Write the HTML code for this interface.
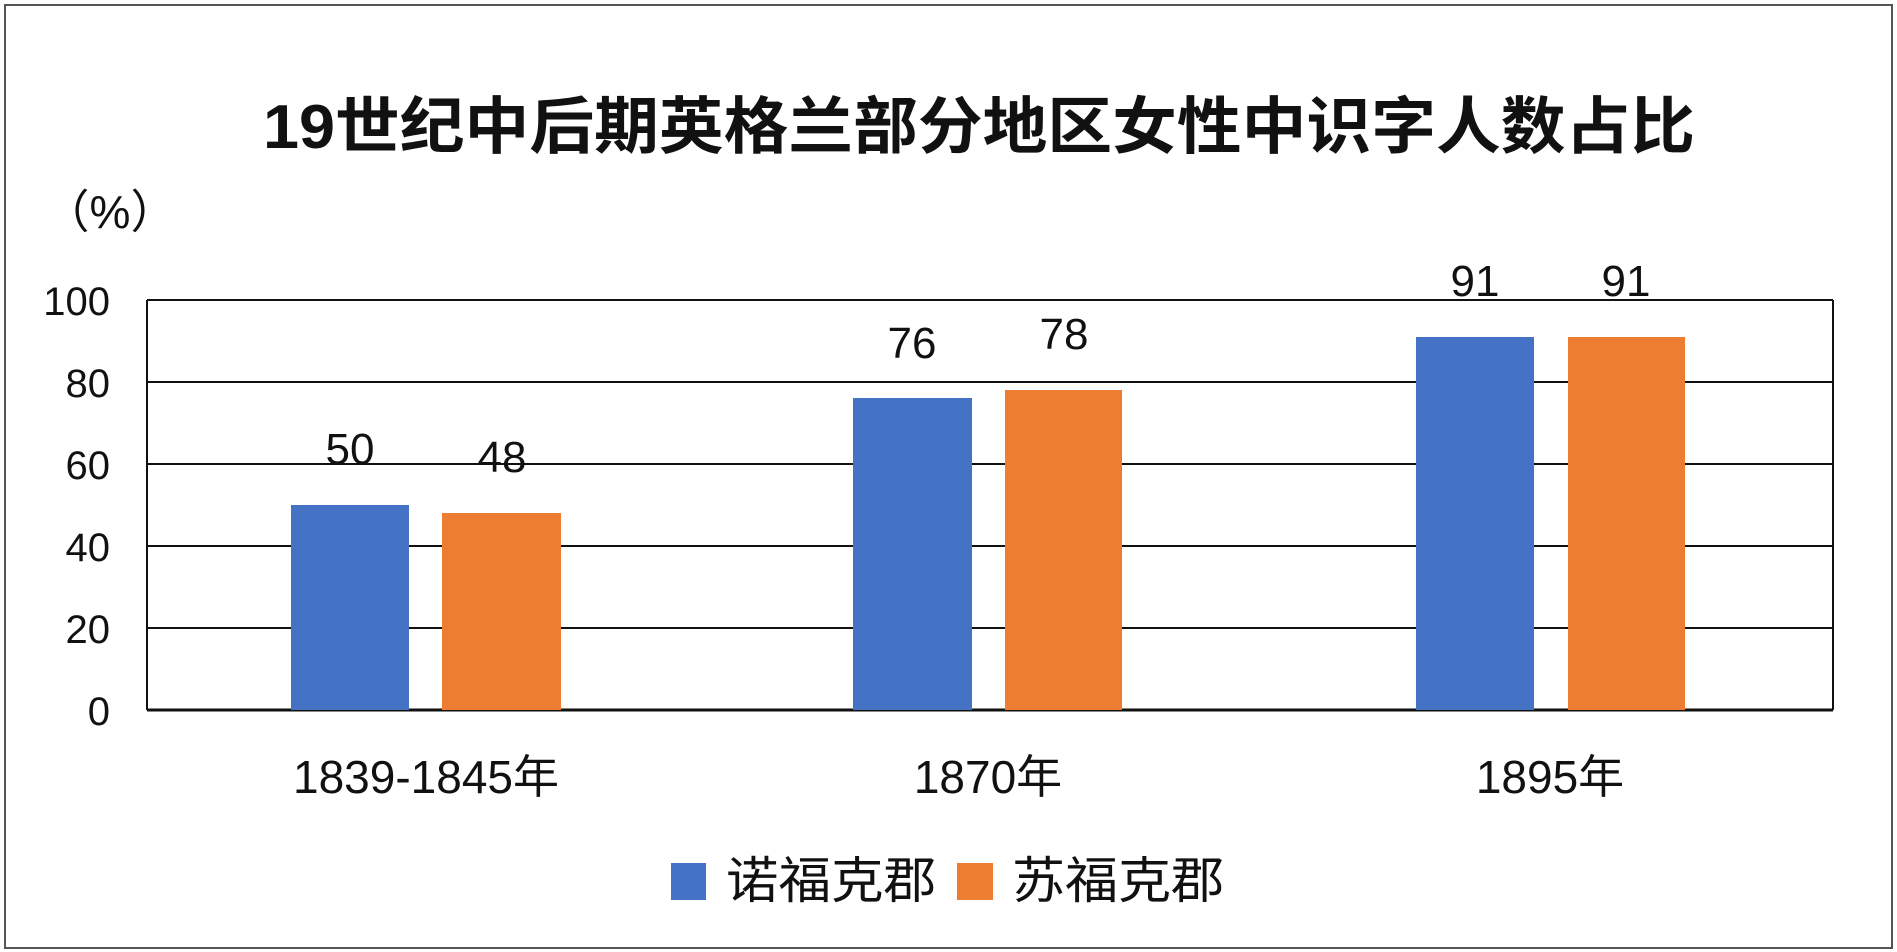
<!DOCTYPE html>
<html><head><meta charset="utf-8"><style>
html,body{margin:0;padding:0;background:#fff;}
svg{display:block;}
text{font-family:"Liberation Sans","Noto Sans CJK SC",sans-serif;fill:#111;}
</style></head><body>
<svg width="1897" height="952" viewBox="0 0 1897 952" xmlns="http://www.w3.org/2000/svg">
<rect x="5" y="5" width="1887" height="943" fill="#fff" stroke="#555" stroke-width="2"/>
<text x="979" y="148" text-anchor="middle" font-size="62" font-weight="bold" textLength="1432" lengthAdjust="spacingAndGlyphs">19世纪中后期英格兰部分地区女性中识字人数占比</text>
<text x="110" y="228" text-anchor="middle" font-size="46" fill="#333">（%）</text>
<g stroke="#111" stroke-width="2">
<line x1="147" y1="300" x2="1833" y2="300"/>
<line x1="147" y1="382" x2="1833" y2="382"/>
<line x1="147" y1="464" x2="1833" y2="464"/>
<line x1="147" y1="546" x2="1833" y2="546"/>
<line x1="147" y1="628" x2="1833" y2="628"/>
<line x1="147" y1="710" x2="1833" y2="710" stroke-width="3"/>
<line x1="147" y1="300" x2="147" y2="710"/>
<line x1="1833" y1="300" x2="1833" y2="710"/>
</g>
<g font-size="40" text-anchor="end">
<text x="110" y="315">100</text>
<text x="110" y="397">80</text>
<text x="110" y="479">60</text>
<text x="110" y="561">40</text>
<text x="110" y="643">20</text>
<text x="110" y="725">0</text>
</g>
<g fill="#4472C4">
<rect x="291" y="505" width="118" height="205"/>
<rect x="853" y="398" width="119" height="312"/>
<rect x="1416" y="337" width="118" height="373"/>
</g>
<g fill="#ED7D31">
<rect x="442" y="513" width="119" height="197"/>
<rect x="1005" y="390" width="117" height="320"/>
<rect x="1568" y="337" width="117" height="373"/>
</g>
<g font-size="44" text-anchor="middle">
<text x="350" y="464">50</text>
<text x="502" y="472">48</text>
<text x="912" y="358">76</text>
<text x="1064" y="349">78</text>
<text x="1475" y="296">91</text>
<text x="1626" y="296">91</text>
</g>
<g font-size="46" text-anchor="middle">
<text x="426" y="793">1839-1845年</text>
<text x="988" y="793">1870年</text>
<text x="1550" y="793">1895年</text>
</g>
<rect x="671" y="863" width="35" height="37" fill="#4472C4"/>
<text x="726" y="898" font-size="50" textLength="210" lengthAdjust="spacingAndGlyphs">诺福克郡</text>
<rect x="957" y="863" width="36" height="37" fill="#ED7D31"/>
<text x="1012" y="898" font-size="50" textLength="212" lengthAdjust="spacingAndGlyphs">苏福克郡</text>
</svg>
</body></html>
